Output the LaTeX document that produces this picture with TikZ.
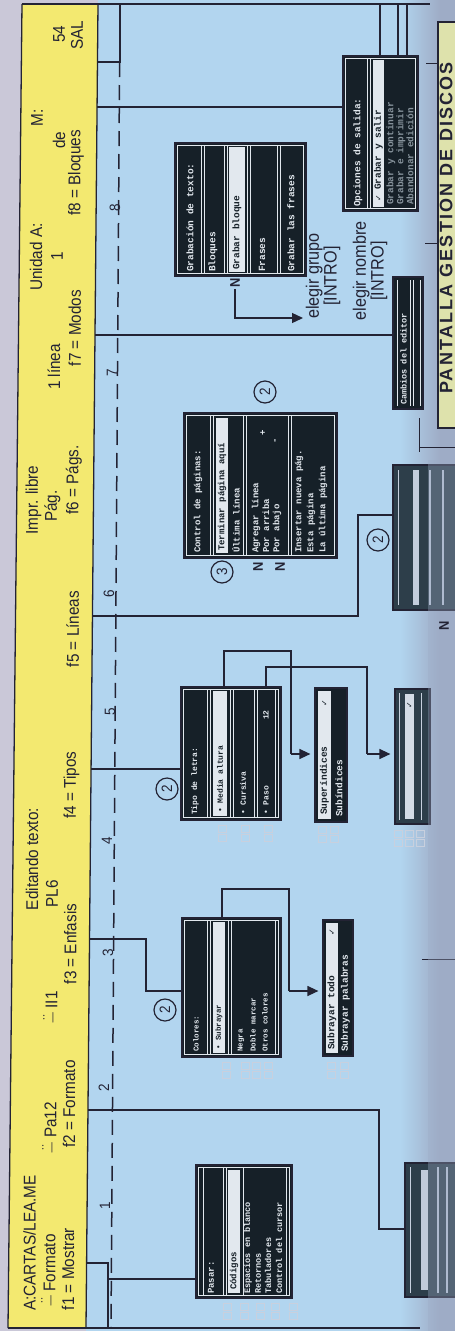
\documentclass[tikz,border=0pt]{standalone}
\usepackage{fontspec}
\usetikzlibrary{arrows.meta,fit}
\newfontfamily\cond[FakeStretch=0.9]{Liberation Sans}
\newfontfamily\condb[FakeStretch=0.92]{Liberation Sans Bold}
\newfontfamily\pantf[LetterSpace=12]{Liberation Sans Bold}
\newfontfamily\scrmono{Liberation Mono}
\newfontfamily\dejavu{DejaVu Sans}
\definecolor{bgblue}{RGB}{178,213,239}
\definecolor{hdryel}{RGB}{243,233,112}
\definecolor{lav}{RGB}{202,200,216}
\definecolor{ink}{RGB}{35,35,52}
\definecolor{scr}{RGB}{22,32,40}
\definecolor{scrb}{RGB}{45,62,74}
\definecolor{scrw}{RGB}{226,232,238}
\definecolor{gut}{RGB}{158,172,198}
\definecolor{pyel}{RGB}{222,226,172}
\definecolor{keyc}{RGB}{200,208,222}
\newcommand\hdrf{\cond\fontsize{17}{19}\selectfont}
\newcommand\numf{\cond\fontsize{15}{17}\selectfont}
\newcommand\lblf{\cond\fontsize{18}{15}\selectfont}
\newcommand\dsym{\ensuremath{\ddot{-}}}
\newcommand\inb[1]{\draw[sepw] ([shift={(3pt,-3pt)}]#1.north west) rectangle ([shift={(-3pt,3pt)}]#1.south east);}
\newcommand\vs[3]{\draw[sepw] (#1,#2) -- (#1,#3);}
\newcommand\kc[2]{\draw[keyst] (#1-4,#2) rectangle (#1+4,#2+7); \draw[keyst] (#1-4,#2+9) rectangle (#1+4,#2+16);}
\tikzset{
  conn/.style={draw=ink, line width=1.3pt},
  arr/.style={conn, -{Triangle[length=11pt,width=10pt]}, shorten >=4pt},
  scrbox/.style={draw=ink, fill=scr, line width=1.2pt, inner sep=0pt},
  sepw/.style={draw=scrw, line width=0.7pt},
  scrt/.style={text=scrw, rotate=90, anchor=west, inner sep=0pt, font=\scrmono\bfseries\fontsize{#1}{#1}\selectfont},
  scrth/.style={scrt=#1, text=scr},
  chk/.style={rotate=90, inner sep=0pt, text=scr, font=\dejavu\fontsize{8}{8}\selectfont},
  hdrt/.style={font=\hdrf, text=ink, rotate=90, inner sep=0pt},
  dnum/.style={font=\numf, text=ink, rotate=90, inner sep=1pt},
  cnum/.style={circle, draw=ink, line width=1.2pt, minimum size=22pt, inner sep=0pt, font=\numf, text=ink, rotate=90},
  nlab/.style={font=\condb\fontsize{14}{14}\selectfont, text=ink, rotate=90, inner sep=1pt},
  lbl/.style={font=\lblf, text=ink, rotate=90, align=center, inner sep=1pt},
  keyst/.style={draw=keyc, line width=0.8pt},
}
\begin{document}
\begin{tikzpicture}[x=1pt,y=-1pt]
\useasboundingbox (0,0) rectangle (455,1331);
\clip (0,0) rectangle (455,1331);
% backgrounds
\fill[lav] (0,0) rectangle (455,1331);
\fill[bgblue] (98,0) -- (455,0) -- (455,1331) -- (86,1331) -- cycle;
\shade[left color=bgblue, right color=gut] (400,0) rectangle (440,1331);
\fill[gut] (440,0) rectangle (455,1331);
\fill[hdryel] (22,4) -- (98,4) -- (86,1328) -- (8,1328) -- cycle;
\draw[conn] (22,4) -- (8,1328);
\draw[conn] (98,4) -- (86,1328);
\draw[conn] (22,4) -- (430,4);
\draw[conn] (8,1328) -- (420,1328);
% pantalla box
\node[draw=ink, line width=1.3pt, fill=pyel, inner sep=0pt, fit={(438,22) (470,428)}] (pant) {};
\node[anchor=north, rotate=90, inner sep=0pt, text=ink, font=\pantf\fontsize{18}{18}\selectfont] (pantt) at (439.5,228) {PANTALLA GESTION DE DISCOS};
\coordinate (pk1) at (426,63); \coordinate (pk2) at (425,243);
\draw[conn, line width=1pt] (pk1) -- (pk1 -| pant.west);
\draw[conn, line width=1pt] (pk2) -- (pk2 -| pant.west);
\coordinate (q1) at (419,418); \coordinate (q2) at (419,452); \coordinate (q3) at (419,447); \coordinate (q4) at (455,447);
\draw[conn, line width=1pt] (q1) -- (q2); \draw[conn, line width=1pt] (q3) -- (q4);
\coordinate (q5) at (422,959); \coordinate (q6) at (455,959);
\draw[conn, line width=1pt] (q5) -- (q6);
% header texts
\node[hdrt] (h1) at (29.5,1243) {A:CARTAS/LEA.ME};
\node[hdrt] (h2) at (32,859) {Editando texto:};
\node[hdrt] (h3) at (33.5,500) {Impr. libre};
\node[hdrt] (h4) at (36,257) {Unidad A:};
\node[hdrt] (h5) at (37,118) {M:};
\node[hdrt] (h6) at (49,1271) {\dsym\,Formato};
\node[hdrt] (h7) at (50,1128) {\dsym\,Pa12};
\node[hdrt] (h8) at (51,1008) {\dsym\,II1};
\node[hdrt] (h9) at (52,894) {PL6};
\node[hdrt] (h10) at (52.5,506) {Pág.};
\node[hdrt] (h11) at (54,367) {1 línea};
\node[hdrt] (h12) at (57,256) {1};
\node[hdrt] (h13) at (59,140) {de};
\node[hdrt] (h14) at (59,34) {54};
\node[hdrt] (h15) at (68,1269) {f1 = Mostrar};
\node[hdrt] (h16) at (69,1104) {f2 = Formato};
\node[hdrt] (h17) at (70.4,944) {f3 = Enfasis};
\node[hdrt] (h18) at (71.5,785) {f4 = Tipos};
\node[hdrt] (h19) at (72.7,629) {f5 = Líneas};
\node[hdrt] (h20) at (73.8,480) {f6 = Págs.};
\node[hdrt] (h21) at (74.9,328) {f7 = Modos};
\node[hdrt] (h22) at (76,173) {f8 = Bloques};
\node[hdrt] (h23) at (77,35) {SAL};
% dashed guide
\coordinate (dg1) at (119.6,62); \coordinate (dg2) at (111,1328);
\draw[draw=ink, line width=1.5pt, dash pattern=on 15pt off 8pt] (dg1) -- (dg2);
\node[dnum] (d1) at (105,1206) {1};
\node[dnum] (d2) at (104,1088) {2};
\node[dnum] (d3) at (108,953) {3};
\node[dnum] (d4) at (107,841) {4};
\node[dnum] (d5) at (110,712) {5};
\node[dnum] (d6) at (109,594) {6};
\node[dnum] (d7) at (112,373) {7};
\node[dnum] (d8) at (115,208) {8};
% ---------- screen boxes ----------
% Pasar
\node[scrbox, fit={(196,1165) (292,1298)}] (pasar) {};
\inb{pasar}
\vs{203}{1168}{1295}\vs{223}{1168}{1295}\vs{226}{1168}{1295}
\fill[scrw] (228,1170) rectangle (240,1293);
\vs{243}{1168}{1295}\vs{286}{1168}{1295}
\node[scrt=9] at (211,1294) {Pasar:};
\node[scrth=9] at (234,1290) {Códigos};
\node[scrt=8.5] at (248,1294) {Espacios en blanco};
\node[scrt=8.5] at (258,1294) {Retornos};
\node[scrt=8.5] at (268,1294) {Tabuladores};
\node[scrt=8.5] at (279,1294) {Control del cursor};
% Colores (enfasis)
\node[scrbox, fit={(182,918) (281,1057)}] (colores) {};
\inb{colores}
\vs{207}{921}{1054}\vs{210}{921}{1054}
\fill[scrw] (213,922) rectangle (225,1053);
\vs{228}{921}{1054}\vs{231}{921}{1054}\vs{275}{921}{1054}
\node[scrt=7.5] at (196,1052) {Colores:};
\node[scrth=7.5] at (219,1050) {• Subrayar};
\node[scrt=7.5] at (241,1052) {Negra};
\node[scrt=7.5] at (253,1052) {Doble marcar};
\node[scrt=7.5] at (265,1052) {Otros colores};
% Subrayar submenu
\node[scrbox, fit={(323,920) (353,1056)}] (subr) {};
\fill[scrw] (326,923) rectangle (338,1053);
\node[scrth=9.5] at (332,1050) {Subrayar todo};
\node[chk] at (332,932) {✓};
\node[scrt=9.5] at (345.5,1052) {Subrayar palabras};
% Tipo de letra
\node[scrbox, fit={(181,687) (281,820)}] (tipo) {};
\inb{tipo}
\vs{207}{690}{817}\vs{210}{690}{817}
\fill[scrw] (213,691) rectangle (227,816);
\vs{230}{690}{817}\vs{233}{690}{817}\vs{254}{690}{817}\vs{257}{690}{817}\vs{275}{690}{817}
\node[scrt=8] at (195,815) {Tipo de letra:};
\node[scrth=8] at (220,813) {• Media altura};
\node[scrt=8] at (243,815) {• Cursiva};
\node[scrt=8] at (266,815) {• Paso};
\node[scrt=8] at (266,720) {12};
% Superindices
\node[scrbox, fit={(315,688) (347,822)}] (sup) {};
\fill[scrw] (318,691) rectangle (331,819);
\node[scrth=9.5] at (324.5,815) {Superíndices};
\node[chk] at (324.5,703) {✓};
\node[scrt=9.5] at (339,817) {Subíndices};
% Paso (blurred)
\node[scrbox, fill=scrb, fit={(395,689) (430,824)}] (paso) {};
\fill[scrw!80!gut] (405,694) rectangle (414,819);
\draw[scrw!60!gut, line width=1pt] (421,693) -- (421,820);
\draw[scrw!60!gut, line width=1pt] (399,693) -- (399,820);
\node[chk] at (409.5,705) {✓};
% Control de paginas
\node[scrbox, fit={(184,413) (337,558)}] (cp) {};
\inb{cp}
\vs{210}{416}{555}\vs{213}{416}{555}
\fill[scrw] (216,418) rectangle (228,553);
\vs{243}{416}{555}\vs{246}{416}{555}\vs{288}{416}{555}\vs{291}{416}{555}
\node[scrt=9] at (198,553) {Control de páginas:};
\node[scrth=9] at (222,551) {Terminar página aquí};
\node[scrt=9] at (236,553) {Última línea};
\node[scrt=9] at (256,553) {Agregar línea};
\node[scrt=9] at (266,553) {Por arriba};
\node[scrt=9] at (277,553) {Por abajo};
\node[scrt=9] at (263,436) {+};
\node[scrt=9] at (276,444) {-};
\node[scrt=9] at (299,553) {Insertar nueva pág.};
\node[scrt=9] at (311,553) {Esta página};
\node[scrt=9] at (323,553) {La última página};
% Grabacion de texto
\node[scrbox, fit={(175,143) (306,276)}] (grab) {};
\inb{grab}
\vs{201}{146}{273}\vs{204}{146}{273}\vs{224}{146}{273}\vs{227}{146}{273}
\fill[scrw] (229,147) rectangle (245,272);
\vs{247}{146}{273}\vs{250}{146}{273}\vs{277}{146}{273}\vs{280}{146}{273}
\node[scrt=9.5] at (190,272) {Grabación de texto:};
\node[scrt=9.5] at (213,272) {Bloques};
\node[scrth=9.5] at (237,270) {Grabar bloque};
\node[scrt=9.5] at (262,272) {Frases};
\node[scrt=9.5] at (291,272) {Grabar las frases};
% Opciones de salida
\node[scrbox, fit={(343,56) (418,211)}] (opc) {};
\inb{opc}
\vs{367}{59}{208}\vs{370}{59}{208}
\fill[scrw] (373,60) rectangle (384,207);
\node[scrt=9.5] at (358,207) {Opciones de salida:};
\node[chk] at (378.5,198) {✓};
\node[scrth=9.5] at (378.5,190) {Grabar y salir};
\node[scrt=9.5, text=scrw!50!scrb] at (391,205) {Grabar y continuar};
\node[scrt=9.5, text=scrw!50!scrb] at (401,205) {Grabar e imprimir};
\node[scrt=9.5, text=scrw!50!scrb] at (410,205) {Abandonar edición};
% Cambios del editor
\node[scrbox, fit={(393,277) (423,409)}] (b6) {};
\vs{397}{280}{406}\vs{410}{280}{406}\vs{413}{280}{406}\vs{420}{280}{406}
\node[scrt=8.5] at (403.5,405) {Cambios del editor};
% blurred box f5
\node[scrbox, fill=scrb, fit={(393,465) (465,610)}] (b5) {};
\draw[scrw!60!gut, line width=1pt] (398,470) -- (398,605);
\fill[scrw!55!gut] (413,470) rectangle (419,605);
\draw[scrw!40!gut, line width=2pt] (430,470) -- (430,605);
\draw[scrw!40!gut, line width=2pt] (443,470) -- (443,605);
% blurred box f2
\node[scrbox, fill=scrb, fit={(405,1163) (465,1297)}] (b2) {};
\draw[scrw!60!gut, line width=1pt] (410,1167) -- (410,1293);
\fill[scrw!50!gut] (421,1170) rectangle (428,1290);
\draw[scrw!40!gut, line width=2pt] (438,1167) -- (438,1293);
\draw[scrw!40!gut, line width=2pt] (447,1167) -- (447,1293);
\fill[gut, opacity=0.35] (428,460) rectangle (455,1331);
% key caps (faint)
\kc{227}{1303}\kc{244}{1303}\kc{260}{1303}\kc{275}{1303}\kc{293}{1303}
\kc{226}{1062}\kc{245}{1062}\kc{256}{1062}\kc{268}{1062}
\kc{331}{1062}\kc{344}{1062}
\kc{222}{825}\kc{245}{825}\kc{268}{825}
\kc{322}{826}\kc{334}{826}
\kc{398}{830}\kc{409}{830}\kc{420}{830}
% ---------- connectors ----------
\coordinate (k1) at (86.6,1263); \coordinate (j1) at (108,1263); \coordinate (j1e) at (108,1328);
\coordinate (j1b) at (108,1279);
\draw[conn] (k1) -- (j1) -- (j1e);
\draw[conn] (j1b) -- (pasar.west |- j1b);
\coordinate (k2) at (88,1110); \coordinate (c2) at (379,1110); \coordinate (c2b) at (379,1229);
\draw[conn] (k2) -- (c2) -- (c2b) -- (b2.west |- c2b);
\coordinate (k3) at (89.5,939); \coordinate (c3) at (146,939); \coordinate (c3b) at (146,991);
\draw[conn] (k3) -- (c3) -- (c3b) -- (colores.west |- c3b);
\coordinate (d3a) at (222,889); \coordinate (d3b) at (289,889); \coordinate (d3c) at (289,991);
\draw[conn] (colores.north -| d3a) -- (d3a) -- (d3b) -- (d3c);
\draw[arr] (d3c) -- (subr.west |- d3c);
\coordinate (k4) at (91,769);
\draw[conn] (k4) -- (tipo.west |- k4);
\coordinate (d4a) at (224,651); \coordinate (d4b) at (291,651); \coordinate (d4c) at (291,754);
\draw[conn] (tipo.north -| d4a) -- (d4a) -- (d4b) -- (d4c);
\draw[arr] (d4c) -- (sup.west |- d4c);
\coordinate (e4a) at (266,667); \coordinate (e4b) at (367,667); \coordinate (e4c) at (367,754);
\draw[conn] (tipo.north -| e4a) -- (e4a) -- (e4b) -- (e4c);
\draw[arr] (e4c) -- (paso.west |- e4c);
\coordinate (k5) at (92.4,616); \coordinate (c5a) at (358,616); \coordinate (c5b) at (358,515);
\draw[conn] (k5) -- (c5a) -- (c5b) -- (b5.west |- c5b);
\coordinate (k6) at (95,335);
\draw[conn] (k6) -- (b6.west |- k6);
\coordinate (k8) at (97,107);
\draw[conn] (k8) -- (opc.west |- k8);
\coordinate (k9) at (97.4,62); \coordinate (c9a) at (120,62); \coordinate (c9b) at (120,4);
\draw[conn] (k9) -- (c9a) -- (c9b);
\coordinate (t1) at (380,4); \coordinate (t2) at (398,4); \coordinate (t3) at (407,4);
\draw[conn] (t1) -- (t1 |- opc.north);
\draw[conn] (t2) -- (t2 |- opc.north);
\draw[conn] (t3) -- (t3 |- opc.north);
% circled numbers, N labels, notes
\node[cnum] (o1) at (165,1010) {2};
\node[cnum] (o2) at (167,789) {2};
\node[cnum] (o3) at (222,572) {3};
\node[cnum] (o4) at (265,392) {2};
\node[cnum] (o5) at (378,540) {2};
\node[nlab] (n1) at (258,567) {N};
\node[nlab] (n2) at (280,567) {N};
\node[nlab] (n3) at (444,626) {N};
\node[nlab] (nG) at (235,283) {N};
\coordinate (gtip) at (303,318);
\draw[arr, shorten >=0pt] (nG.west) |- (gtip);
\node[lbl] (eg) at (323,276) {elegir grupo\\{[INTRO]}};
\node[lbl] (en) at (370,271) {elegir nombre\\{[INTRO]}};
\end{tikzpicture}
\end{document}
